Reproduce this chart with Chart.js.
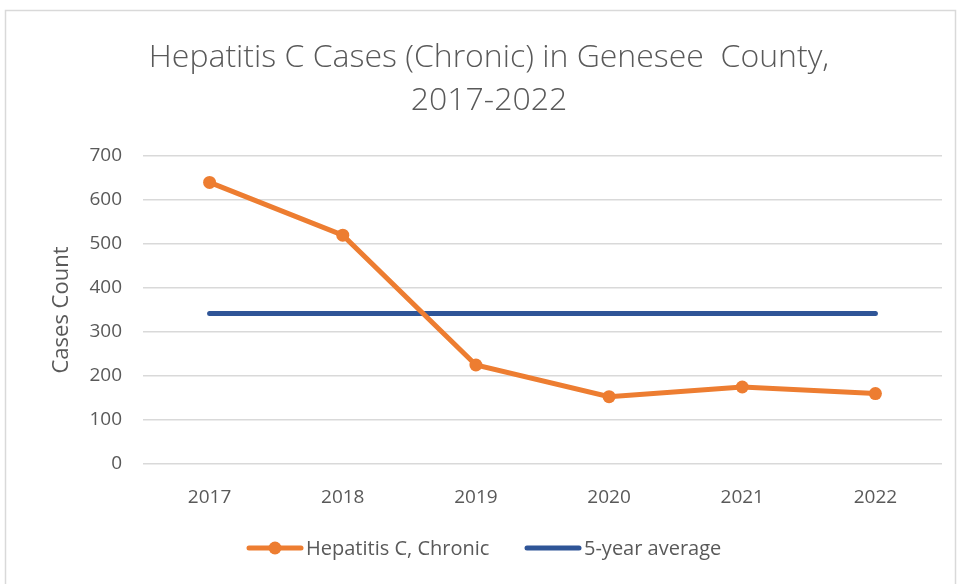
<!DOCTYPE html>
<html><head><meta charset="utf-8">
<script src="https://cdn.jsdelivr.net/npm/chart.js@4/dist/chart.umd.min.js"></script>
<style>html,body{margin:0;padding:0;background:#fff}#wrap{width:958px;height:584px;position:relative}</style>
</head><body><div id="wrap"><canvas id="c" width="958" height="584"></canvas></div>
<script>
const years = ['2017','2018','2019','2020','2021','2022'];
const chronicCases = [640, 520, 225, 153, 175, 160];
const fiveYearAverage = [342, 342, 342, 342, 342, 342];
const yTicks = [0, 100, 200, 300, 400, 500, 600, 700];
const titleLines = ['Hepatitis C Cases (Chronic) in Genesee  County,', '2017-2022'];
const yAxisTitle = 'Cases Count';
const seriesNames = ['Hepatitis C, Chronic', '5-year average'];

const FONT = "'Open Sans', 'Liberation Sans', sans-serif";
const GRAY = '#595959';
const ORANGE = '#ED7D31';
const BLUE = '#2F5597';

const decor = {
  id: 'decor',
  beforeDraw(chart) {
    const ctx = chart.ctx;
    ctx.save();
    ctx.fillStyle = '#fff';
    ctx.fillRect(0, 0, chart.width, chart.height);
    ctx.strokeStyle = '#d9d9d9';
    ctx.lineWidth = 1.5;
    ctx.strokeRect(5.5, 10.5, 950, 580);
    ctx.restore();
  },
  afterDraw(chart) {
    const ctx = chart.ctx;
    ctx.save();
    ctx.fillStyle = GRAY;
    ctx.textAlign = 'center';
    ctx.textBaseline = 'middle';
    ctx.font = "300 32px " + FONT;
    ctx.fillText(titleLines[0], 489, 58);
    ctx.fillText(titleLines[1], 489, 101);
    // y axis title
    ctx.font = "22px " + FONT;
    ctx.translate(62, chart.chartArea.top + (chart.chartArea.bottom - chart.chartArea.top) / 2);
    ctx.rotate(-Math.PI / 2);
    ctx.fillText(yAxisTitle, 0, 0);
    ctx.restore();
    // legend
    ctx.save();
    ctx.font = "20px " + FONT;
    ctx.textBaseline = 'middle';
    ctx.textAlign = 'left';
    ctx.lineCap = 'round';
    const ly = 548;
    const items = [{x: 249, color: ORANGE, dot: true, label: chart.data.datasets[0].label},
                   {x: 527, color: BLUE, dot: false, label: chart.data.datasets[1].label}];
    items.forEach(it => {
      ctx.strokeStyle = it.color;
      ctx.lineWidth = 5;
      ctx.beginPath(); ctx.moveTo(it.x, ly); ctx.lineTo(it.x + 52, ly); ctx.stroke();
      if (it.dot) { ctx.fillStyle = it.color; ctx.beginPath(); ctx.arc(it.x + 26, ly, 6.5, 0, Math.PI * 2); ctx.fill(); }
      ctx.fillStyle = GRAY;
      ctx.fillText(it.label, it.x + 57, ly + 1);
    });
    ctx.restore();
  }
};

new Chart(document.getElementById('c'), {
  type: 'line',
  data: {
    labels: years,
    datasets: [
      { label: seriesNames[0], data: chronicCases, borderColor: ORANGE, backgroundColor: ORANGE,
        borderWidth: 5, pointRadius: 6.5, pointHoverRadius: 6.5, pointBackgroundColor: ORANGE, pointBorderWidth: 0, tension: 0 },
      { label: seriesNames[1], data: fiveYearAverage, borderColor: BLUE, backgroundColor: BLUE,
        borderWidth: 5, pointRadius: 0, borderCapStyle: 'round', tension: 0 }
    ]
  },
  options: {
    responsive: false,
    animation: false,
    events: [],
    layout: { padding: { left: 0, right: 16, top: 156, bottom: 0 } },
    plugins: { legend: { display: false }, title: { display: false }, tooltip: { enabled: false } },
    scales: {
      x: {
        offset: true,
        grid: { display: false },
        border: { display: false },
        ticks: { color: GRAY, font: { family: FONT, size: 19 }, padding: 14 },
        afterFit(s) { s.height = 120; }
      },
      y: {
        min: 0, max: 700,
        afterBuildTicks(s) { s.ticks = yTicks.map(v => ({ value: v })); },
        grid: { color: '#d9d9d9', lineWidth: 1.5, drawTicks: false },
        border: { display: false },
        ticks: { color: GRAY, font: { family: FONT, size: 19 }, padding: 21 },
        afterFit(s) { s.width = 143; }
      }
    }
  },
  plugins: [decor]
});
</script></body></html>
